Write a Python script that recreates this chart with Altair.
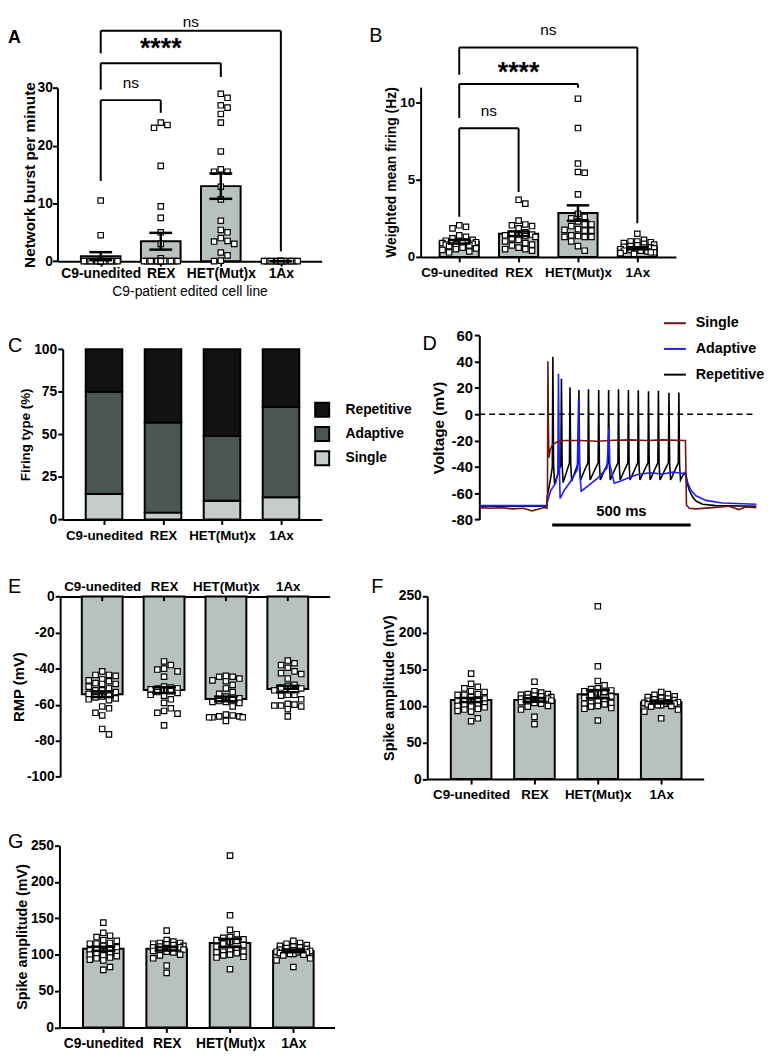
import json
import altair as alt
import pandas as pd

FONT = "Liberation Sans"
W, H = 764, 1047
BAR = "#b8c2bc"

CATS = ["C9-unedited", "REX", "HET(Mut)x", "1Ax"]
LABEL_EXPR = json.dumps(CATS) + "[datum.value]"
NUM_EXPR = "'' + datum.value"

# ---------------- Panel A : network bursts per minute ----------------
A_C9 = [10.5, 4.5, 0, 0, 0, 0, 0, 0, 0, 0, 0, 0, 0, 0, 0, 0]
A_REX = [24.0, 23.6, 23.1, 16.5, 9.5, 7.5, 5.0, 3.0, 0.5, 0, 0, 0, 0, 0, 0, 0, 0, 0, 0, 0, 0, 0]
A_HET = [29.0, 28.3, 27.0, 26.6, 25.5, 24.0, 19.0, 15.9, 15.5, 15.5, 12.9, 10.7,
         7.0, 5.4, 5.0, 4.0, 3.5, 3.4, 3.0, 1.5, 1.0, 0.1, 0.0]
A_1AX = [0, 0, 0, 0, 0, 0, 0, 0, 0, 0, 0, 0, 0, 0]
A_MEAN = [0.86, 3.45, 13.0, 0.0]
A_SEM = [0.7, 1.45, 2.2, 0.0]
A_PAIRS = [(0, 1), (0, 2), (0, 3)]
A_LEVEL = [27.9, 34.3, 39.9]
A_LEFT_END = [13.9, 29.7, 36.0]
A_RIGHT_END = [25.7, 31.9, 1.7]
A_SIG = ["ns", "****", "ns"]

# ---------------- Panel B : weighted mean firing ----------------
B_C9 = [2.05, 1.95, 1.85, 1.4, 1.3, 1.2, 1.1, 1.05, 1.0, 1.0, 0.95, 0.95, 0.9, 0.9,
        0.85, 0.8, 0.8, 0.75, 0.7, 0.6, 0.55, 0.5, 0.45, 0.35, 0.3]
B_REX = [3.7, 3.45, 2.35, 2.1, 2.05, 2.0, 1.85, 1.6, 1.5, 1.45, 1.4, 1.4, 1.35, 1.3,
         1.2, 1.1, 1.0, 0.9, 0.8, 0.75, 0.6, 0.5, 0.5, 0.4]
B_HET = [10.25, 8.35, 6.05, 5.5, 5.45, 4.05, 2.8, 2.6, 2.5, 2.3, 2.1, 2.1, 2.0, 1.8,
         1.75, 1.7, 1.7, 1.4, 1.35, 1.3, 1.3, 1.3, 1.0, 0.7, 0.4]
B_1AX = [1.5, 1.1, 1.0, 1.0, 0.95, 0.9, 0.85, 0.8, 0.75, 0.7, 0.65, 0.6, 0.6, 0.55,
         0.5, 0.5, 0.45, 0.4, 0.4, 0.35, 0.3, 0.3, 0.25, 0.2]
B_MEAN = [0.98, 1.5, 2.84, 0.56]
B_SEM = [0.12, 0.15, 0.5, 0.07]
B_PAIRS = [(0, 1), (0, 2), (0, 3)]
B_LEVEL = [8.33, 11.2, 13.57]
B_LEFT_END = [2.6, 9.0, 11.8]
B_RIGHT_END = [4.2, 10.96, 2.18]
B_SIG = ["ns", "****", "ns"]

# ---------------- Panel C : firing type ----------------
C_TYPES = ["Repetitive", "Adaptive", "Single"]
C_COLORS = ["#121212", "#4b5654", "#c6cdc9"]
C_SINGLE = [15, 4, 11, 13]
C_ADAPTIVE = [60, 53, 38, 53]
C_REPETITIVE = [25, 43, 51, 34]

# ---------------- Panel D : voltage traces ----------------
TRACE_NAMES = ["Single", "Adaptive", "Repetitive"]
TRACE_COLORS = ["#701414", "#1e1eff", "#000000"]
R_T = [0, 243, 246, 252, 258, 263.5,
       265.5, 268, 271.5, 283,
       294.4, 296.4, 298.9, 302.4, 313,
       325.4, 327.4, 329.9, 333.4, 345,
       357.5, 359.5, 362, 365.5, 379,
       392, 394, 396.5, 400, 415,
       428.9, 430.9, 433.4, 436.9, 451,
       464.7, 466.7, 469.2, 472.7, 487,
       500.4, 502.4, 504.9, 508.4, 523,
       536.1, 538.1, 540.6, 544.1, 559,
       571.8, 573.8, 576.3, 579.8, 595,
       608.7, 610.7, 613.2, 616.7, 631,
       644.4, 646.4, 648.9, 652.4, 668,
       682.5, 684.5, 687, 690.5, 705,
       718.2, 720.2, 722.7, 726.2,
       736, 744, 750, 758, 770, 782, 806, 853, 1000]
R_V = [-70, -70, -62, -55, -48, -40,
       43.8, -38, -53, -46,
       -38, 27.0, -38, -52, -45,
       -37, 20.5, -38, -51, -44,
       -37, 18.5, -38, -50, -43,
       -37, 19.0, -38, -50, -43,
       -37, 18.5, -38, -50, -43,
       -37, 18.5, -38, -50, -43,
       -37, 19.0, -38, -50, -43,
       -37, 18.5, -38, -50, -43,
       -37, 18.3, -38, -50, -43,
       -37, 17.5, -38, -50, -43,
       -37, 17.8, -38, -50, -43,
       -37, 16.3, -38, -50, -43,
       -37, 16.5, -38, -50,
       -46, -45, -52, -58, -63, -66, -68.5, -69.5, -70]
AD_T = [0, 243, 246.4, 258, 276, 283.3, 285.7, 288.5, 291.7, 306,
        330, 353.6, 358.3, 361, 367.9, 389, 425, 460.7, 467.9, 471,
        487, 508, 544, 568, 615.5, 663, 699, 734.5, 744, 752,
        764, 782, 818, 877, 1000]
AD_V = [-69.5, -69.5, -66, -58, -52, -45, 30.8, -35, -64, -58,
        -51, -42, 11.5, -40, -58.5, -55, -49, -41, -10, -38,
        -52.5, -51, -48, -46, -44.5, -45.5, -44, -45, -44, -52,
        -58, -62, -65.5, -67.5, -68.5]
S_T = [0, 40, 80, 120, 160, 190, 215, 235, 244, 246,
       247.6, 249.5, 251.2, 256, 264, 282, 306, 365, 425, 484.5,
       544, 603.6, 663, 741.7, 744, 747.6, 758, 782, 841.7, 901,
       937, 961, 1000]
S_V = [-71, -71.5, -71, -72, -71.5, -73.5, -72, -71, -71.5, -60,
       40.3, -10, -33, -27, -23, -21, -20, -20, -20.5, -19.8,
       -19.5, -20, -19.5, -20, -20, -69, -71.5, -72, -71, -70,
       -72.5, -70.5, -71]
SCALEBAR_T = [263, 763]
SCALEBAR_V = -84.3
SCALEBAR_LABEL = "500 ms"

# ---------------- Panel E : RMP ----------------
E_C9 = [-41.5, -43.5, -43.5, -44, -46, -46.5, -47, -48, -48.5, -48.5, -50, -51, -52, -52,
        -53, -54, -55, -55.5, -56, -56.5, -57, -57.5, -61, -62, -64.5, -66, -73.5, -76.5]
E_REX = [-36, -38, -40, -40.5, -41.5, -44.5, -50, -50.5, -51, -51, -51.5, -52, -52.5, -53,
         -53.5, -54.5, -55, -57, -59, -62, -63.5, -64.5, -65, -71.5]
E_HET = [-44, -44.5, -44.5, -45.5, -46.5, -47, -49, -51, -53, -54, -55.5, -56.5, -57.5, -58,
         -58.5, -58.5, -59, -61, -65.5, -66, -66.5, -66.5, -67, -67, -67, -69]
E_1AX = [-35.5, -37, -38, -39.5, -41.5, -42.5, -43, -45.5, -49, -49.5, -50.5, -51, -52,
         -54.5, -54.5, -55, -57, -59.5, -60, -60.5, -60.5, -61, -62.5, -66.5]
E_MEAN = [-54.2, -51.9, -56.8, -51.3]
E_SEM = [1.6, 1.6, 1.3, 1.8]

# ---------------- Panels F and G : spike amplitude ----------------
F_C9 = [144, 130, 126, 124, 120, 119, 116, 115, 115, 112, 110, 108, 107, 106, 105, 103,
        102, 101, 100, 99, 98, 96, 95, 93, 92, 83, 79]
F_REX = [133, 120, 118, 116, 116, 115, 114, 113, 112, 111, 110, 110, 109, 108, 107, 106,
         105, 104, 103, 100, 99, 95, 85, 75]
F_HET = [236, 154, 134, 128, 124, 123, 121, 120, 119, 117, 115, 113, 111, 108, 106, 104,
         104, 103, 102, 100, 99, 97, 96, 80]
F_1AX = [119, 116, 115, 113, 112, 111, 110, 109, 108, 107, 106, 105, 105, 104, 104, 103,
         103, 102, 101, 101, 100, 99, 95, 92, 83]
F_MEAN = [108, 108, 116, 105]
F_SEM = [2.8, 2.4, 5.5, 1.8]


def swarm(vals, ppy, ppx, d=6.8, maxw=18.0):
    """Horizontal offsets so that square markers do not overlap (GraphPad-like)."""
    step = d / 2
    cands = [0.0]
    k = 1
    while k * step <= maxw:
        cands += [k * step, -k * step]
        k += 1
    placed, offs = [], []
    for v in vals:
        yp = v * ppy
        best, best_gap = 0.0, -1.0
        for c in cands:
            gap = min((max(abs(c - px), abs(yp - py)) for px, py in placed), default=1e9)
            if gap >= d:
                best = c
                break
            if gap > best_gap:
                best_gap, best = gap, c
        placed.append((best, yp))
        offs.append(best / ppx)
    return offs


def cat_axis(offset, orient="bottom", lp=4, fs=14, ticks=True, title=None, **kw):
    return alt.Axis(values=[0, 1, 2, 3], labelExpr=LABEL_EXPR, orient=orient, offset=offset,
                    title=title, ticks=ticks, tickSize=5, tickWidth=2, tickColor="black",
                    domainColor="black", domainWidth=2, labelFont=FONT, labelFontSize=fs,
                    labelFontWeight="bold", labelColor="black", labelPadding=lp,
                    labelFlush=False, labelOverlap=False, labelBound=False, grid=False, **kw)


def val_axis(offset, values, title, fs=14, tfs=15, tp=5, lp=2):
    return alt.Axis(values=values, labelExpr=NUM_EXPR, orient="left", offset=offset,
                    title=title, tickSize=5, tickWidth=2, tickColor="black",
                    domainColor="black", domainWidth=2, labelFont=FONT, labelFontSize=fs,
                    labelFontWeight="bold", labelColor="black", labelPadding=lp,
                    labelFlush=False, labelOverlap=False, labelBound=False, grid=False,
                    titleFont=FONT, titleFontSize=tfs, titleFontWeight="bold",
                    titleColor="black", titlePadding=tp)


def dot_panel(groups, means, sems, xr, xd, yr, yd, xaxis, yaxis, hw=0.33, cap=0.19, maxw=18.0):
    xs = alt.Scale(domain=xd, range=xr, nice=False, zero=False)
    ys = alt.Scale(domain=yd, range=yr, nice=False, zero=False)
    ppx = (xr[1] - xr[0]) / (xd[1] - xd[0])
    ppy = abs(yr[0] - yr[1]) / (yd[1] - yd[0])
    rows = []
    for i, vals in enumerate(groups):
        for v, o in zip(vals, swarm(vals, ppy, ppx, maxw=maxw)):
            rows.append({"idx": i, "xp": i + o, "v": v})
    pts = pd.DataFrame(rows)
    summ = pd.DataFrame({"idx": list(range(len(CATS))), "mean": means, "sem": sems})
    bars = alt.Chart(summ).transform_calculate(
        xl=f"datum.idx - {hw}", xrt=f"datum.idx + {hw}", base="0"
    ).mark_rect(fill=BAR, stroke="black", strokeWidth=2).encode(
        x=alt.X("xl:Q", scale=xs, axis=xaxis), x2="xrt:Q",
        y=alt.Y("base:Q", scale=ys, axis=yaxis), y2="mean:Q")
    dots = alt.Chart(pts).mark_point(
        shape="square", filled=True, fill="white", stroke="black", strokeWidth=1.2,
        size=30, opacity=1
    ).encode(x=alt.X("xp:Q", scale=xs, axis=None), y=alt.Y("v:Q", scale=ys, axis=None))
    err = alt.Chart(summ).transform_calculate(
        lo="datum.mean - datum.sem", hi="datum.mean + datum.sem",
        cl=f"datum.idx - {cap}", cr=f"datum.idx + {cap}")
    stem = err.mark_rule(color="black", strokeWidth=2.5).encode(
        x=alt.X("idx:Q", scale=xs, axis=None), y=alt.Y("lo:Q", scale=ys, axis=None), y2="hi:Q")
    top = err.mark_rule(color="black", strokeWidth=2.5).encode(
        x=alt.X("cl:Q", scale=xs, axis=None), x2="cr:Q", y=alt.Y("hi:Q", scale=ys, axis=None))
    bot = err.mark_rule(color="black", strokeWidth=2.5).encode(
        x=alt.X("cl:Q", scale=xs, axis=None), x2="cr:Q", y=alt.Y("lo:Q", scale=ys, axis=None))
    return [bars, dots, stem, top, bot], xs, ys


def brackets(pairs, levels, lefts, rights, sigs, xs, ys, ns_dys, star_dy, star_size=27):
    segs, txt = [], []
    for (a, b), lv, le, re, s, nd in zip(pairs, levels, lefts, rights, sigs, ns_dys):
        segs.append({"x": a, "y": lv, "x2": a, "y2": le})
        segs.append({"x": a, "y": lv, "x2": b, "y2": lv})
        segs.append({"x": b, "y": lv, "x2": b, "y2": re})
        txt.append({"xm": (a + b) / 2, "y": lv, "sig": s, "dy": nd})
    seg_df = pd.DataFrame(segs)
    out = [alt.Chart(seg_df).mark_rule(color="black", strokeWidth=2).encode(
        x=alt.X("x:Q", scale=xs, axis=None), x2="x2:Q",
        y=alt.Y("y:Q", scale=ys, axis=None), y2="y2:Q")]
    for t in txt:
        tdf = pd.DataFrame([t])
        if t["sig"] == "ns":
            mk = alt.Chart(tdf).mark_text(font=FONT, fontSize=15.5, baseline="alphabetic",
                                          dy=t["dy"], color="black")
        else:
            mk = alt.Chart(tdf).mark_text(font=FONT, fontSize=star_size, fontWeight="bold",
                                          baseline="alphabetic", dy=star_dy, color="black")
        out.append(mk.encode(x=alt.X("xm:Q", scale=xs, axis=None),
                             y=alt.Y("y:Q", scale=ys, axis=None), text="sig:N"))
    return out


units = []

# ---- Panel A
a_layers, axs, ays = dot_panel(
    [A_C9, A_REX, A_HET, A_1AX], A_MEAN, A_SEM,
    xr=[50, 317], xd=[-0.72, 3.68], yr=[250.3, 75.3], yd=[0, 30],
    xaxis=cat_axis(250.3 - H, lp=1, title="C9-patient edited cell line", titleFont=FONT,
                   titleFontSize=14, titleFontWeight="normal", titleColor="black", titlePadding=4),
    yaxis=val_axis(-50, [0, 10, 20, 30], "Network burst per minute", fs=14, tfs=15.5, tp=0, lp=0))
units += a_layers
units += brackets(A_PAIRS, A_LEVEL, A_LEFT_END, A_RIGHT_END, A_SIG, axs, ays,
                  ns_dys=[-12.5, 0, -3.5], star_dy=-6)

# ---- Panel B
b_layers, bxs, bys = dot_panel(
    [B_C9, B_REX, B_HET, B_1AX], B_MEAN, B_SEM,
    xr=[417, 675], xd=[-0.65, 3.65], yr=[246, 74.4], yd=[0, 11],
    xaxis=cat_axis(246 - H, lp=4, fs=13.5),
    yaxis=val_axis(-417, [0, 5, 10], "Weighted mean firing (Hz)", fs=13.5, tfs=14, tp=1, lp=1))
units += b_layers
units += brackets(B_PAIRS, B_LEVEL, B_LEFT_END, B_RIGHT_END, B_SIG, bxs, bys,
                  ns_dys=[-12.5, 0, -12.5], star_dy=-3)

# ---- Panel C
c_rows = []
for i in range(len(CATS)):
    for j, (typ, arr) in enumerate([("Single", C_SINGLE), ("Adaptive", C_ADAPTIVE),
                                    ("Repetitive", C_REPETITIVE)]):
        c_rows.append({"idx": i, "type": typ, "pct": arr[i], "ord": j})
cdf = pd.DataFrame(c_rows)
cxs = alt.Scale(domain=[-0.70, 3.69], range=[55.3, 317], nice=False, zero=False)
cys = alt.Scale(domain=[0, 100], range=[511.3, 339.3], nice=False, zero=False)
units.append(alt.Chart(cdf).transform_stack(
    stack="pct", groupby=["idx"], as_=["y0", "y1"], sort=[alt.SortField("ord", order="ascending")]
).transform_calculate(
    xl="datum.idx - 0.31", xrt="datum.idx + 0.31"
).mark_rect(stroke="black", strokeWidth=2).encode(
    x=alt.X("xl:Q", scale=cxs, axis=cat_axis(511.3 - H, lp=4, fs=13.5)), x2="xrt:Q",
    y=alt.Y("y0:Q", scale=cys, axis=val_axis(-55.3, [0, 25, 50, 75, 100], "Firing type (%)",
                                             fs=14, tfs=13.5, tp=1, lp=1)),
    y2="y1:Q",
    color=alt.Color("type:N", scale=alt.Scale(domain=C_TYPES, range=C_COLORS),
                    legend=alt.Legend(orient="none", legendX=309, legendY=392, title=None,
                                      symbolType="square", symbolSize=200,
                                      symbolStrokeColor="black", symbolStrokeWidth=2,
                                      symbolOpacity=1, labelFont=FONT, labelFontSize=14,
                                      labelFontWeight="bold", labelColor="black",
                                      labelOffset=15, rowPadding=1.5, padding=0,
                                      direction="vertical"))))

# ---- Panel D
d_rows = []
for name, ts, vs in [("Repetitive", R_T, R_V), ("Adaptive", AD_T, AD_V), ("Single", S_T, S_V)]:
    for k, (t, v) in enumerate(zip(ts, vs)):
        d_rows.append({"trace": name, "t": t, "v": v, "k": k})
ddf = pd.DataFrame(d_rows)
dxs = alt.Scale(domain=[0, 1000], range=[476.3, 756.3], nice=False, zero=False)
dys = alt.Scale(domain=[-80, 60], range=[511.3, 325.3], nice=False, zero=False)
d_legend = alt.Legend(orient="none", legendX=662, legendY=301, title=None, symbolType="stroke",
                      symbolSize=484, symbolStrokeWidth=2, labelFont=FONT, labelFontSize=14.5,
                      labelFontWeight="bold", labelColor="black", labelOffset=9,
                      rowPadding=7, padding=0, direction="vertical")
zero_df = pd.DataFrame({"t0": [min(R_T + AD_T + S_T)], "t1": [max(R_T + AD_T + S_T)], "v": [0]})
units.append(alt.Chart(zero_df).mark_rule(color="black", strokeWidth=1.5, strokeDash=[6, 4]).encode(
    x=alt.X("t0:Q", scale=dxs, axis=None), x2="t1:Q",
    y=alt.Y("v:Q", scale=dys, axis=val_axis(-476.3, [-80, -60, -40, -20, 0, 20, 40, 60],
                                            "Voltage (mV)", fs=15, tfs=15.5, tp=5))))
for n, name in enumerate(["Repetitive", "Adaptive", "Single"]):
    units.append(
        alt.Chart(ddf).transform_filter(f"datum.trace == '{name}'").mark_line(
            strokeWidth=1.6).encode(
            x=alt.X("t:Q", scale=dxs, axis=None), y=alt.Y("v:Q", scale=dys, axis=None),
            color=alt.Color("trace:N", scale=alt.Scale(domain=TRACE_NAMES, range=TRACE_COLORS),
                            legend=d_legend if n == 0 else None),
            order="k:Q"))
sb_df = pd.DataFrame({"t0": [SCALEBAR_T[0]], "t1": [SCALEBAR_T[1]], "v": [SCALEBAR_V],
                      "tm": [(SCALEBAR_T[0] + SCALEBAR_T[1]) / 2], "lab": [SCALEBAR_LABEL]})
units.append(alt.Chart(sb_df).mark_rule(color="black", strokeWidth=3).encode(
    x=alt.X("t0:Q", scale=dxs, axis=None), x2="t1:Q", y=alt.Y("v:Q", scale=dys, axis=None)))
units.append(alt.Chart(sb_df).mark_text(font=FONT, fontSize=15, fontWeight="bold",
                                        baseline="alphabetic", dy=-9, color="black").encode(
    x=alt.X("tm:Q", scale=dxs, axis=None), y=alt.Y("v:Q", scale=dys, axis=None), text="lab:N"))

# ---- Panel E
e_layers, exs, eys = dot_panel(
    [E_C9, E_REX, E_HET, E_1AX], E_MEAN, E_SEM,
    xr=[52.7, 325], xd=[-0.68, 3.676], yr=[771.3, 589.3], yd=[-100, 0],
    xaxis=cat_axis(-589.3, orient="top", lp=3, fs=13.5, ticks=False),
    yaxis=val_axis(-52.7, [0, -20, -40, -60, -80, -100], "RMP (mV)", fs=14, tfs=15, tp=0, lp=1))
units += e_layers
etick_df = pd.DataFrame({"idx": list(range(len(CATS)))})
units.append(alt.Chart(etick_df).transform_calculate(y0="0", y1="-2.5").mark_rule(
    color="black", strokeWidth=2).encode(
    x=alt.X("idx:Q", scale=exs, axis=None), y=alt.Y("y0:Q", scale=eys, axis=None), y2="y1:Q"))

# ---- Panel F
f_layers, _, _ = dot_panel(
    [F_C9, F_REX, F_HET, F_1AX], F_MEAN, F_SEM,
    xr=[423.7, 703], xd=[-0.692, 3.67], yr=[773.7, 588.7], yd=[0, 250],
    xaxis=cat_axis(773.7 - H, lp=4, fs=13.5),
    yaxis=val_axis(-423.7, [0, 50, 100, 150, 200, 250], "Spike amplitude (mV)",
                   fs=14, tfs=14.5, tp=2, lp=1), hw=0.32)
units += f_layers

# ---- Panel G (same measurements as F)
g_layers, _, _ = dot_panel(
    [F_C9, F_REX, F_HET, F_1AX], F_MEAN, F_SEM,
    xr=[52, 330], xd=[-0.692, 3.65], yr=[1024.7, 840.7], yd=[0, 250],
    xaxis=cat_axis(1024.7 - H, lp=4, fs=14),
    yaxis=val_axis(-52, [0, 50, 100, 150, 200, 250], "Spike amplitude (mV)",
                   fs=14, tfs=14.5, tp=1, lp=1), hw=0.32)
units += g_layers

# ---- panel letters
one = pd.DataFrame({"a": [0]})


def letter(txt, x, y, bold=False, size=20):
    return alt.Chart(one).mark_text(text=txt, font=FONT, fontSize=size,
                                    fontWeight="bold" if bold else "normal", align="left",
                                    baseline="alphabetic", color="black").encode(
        x=alt.value(x), y=alt.value(y))


units += [letter("A", 0, 30, bold=True, size=18), letter("B", 365, 29), letter("C", 0, 342),
          letter("D", 419, 340), letter("E", 0, 586), letter("F", 367, 586),
          letter("G", 0, 843)]

chart = alt.layer(*units).resolve_scale(
    x="independent", y="independent", color="independent"
).properties(width=W, height=H, padding=0, autosize=alt.AutoSizeParams(type="none")
            ).configure_view(stroke=None)

chart.save("out.html", embed_options={"renderer": "svg", "actions": False})
